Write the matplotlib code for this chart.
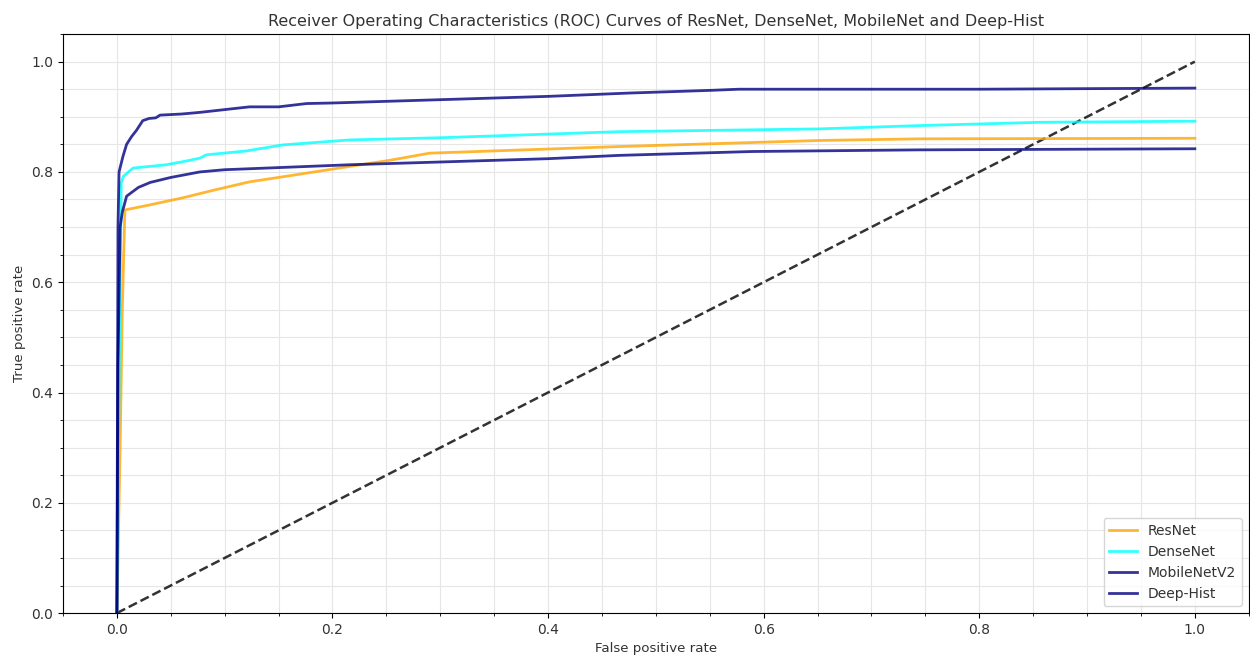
import matplotlib
matplotlib.use("Agg")
import matplotlib.pyplot as plt
from matplotlib.ticker import AutoMinorLocator

# ROC points
resnet_fpr = [0, 0.003, 0.005, 0.0074, 0.03, 0.061, 0.09, 0.123, 0.16, 0.216,
              0.253, 0.29, 0.466, 0.651, 0.744, 1.0]
resnet_tpr = [0, 0.30, 0.55, 0.731, 0.740, 0.753, 0.767, 0.782, 0.793, 0.810,
              0.821, 0.834, 0.846, 0.857, 0.860, 0.861]

densenet_fpr = [0, 0.003, 0.004, 0.006, 0.015, 0.046, 0.065, 0.077, 0.083, 0.12,
                0.154, 0.216, 0.3, 0.466, 0.651, 0.744, 0.857, 1.0]
densenet_tpr = [0, 0.60, 0.78, 0.792, 0.807, 0.813, 0.820, 0.825, 0.831, 0.838,
                0.849, 0.858, 0.862, 0.873, 0.878, 0.884, 0.890, 0.892]

mobilenet_fpr = [0, 0.001, 0.003, 0.005, 0.009, 0.02, 0.031, 0.05, 0.077, 0.1,
                 0.139, 0.216, 0.3, 0.4, 0.466, 0.589, 0.744, 1.0]
mobilenet_tpr = [0, 0.45, 0.70, 0.727, 0.756, 0.772, 0.781, 0.790, 0.800, 0.804,
                 0.807, 0.813, 0.818, 0.824, 0.830, 0.837, 0.840, 0.842]

deephist_fpr = [0, 0.001, 0.002, 0.0056, 0.009, 0.0136, 0.018, 0.024, 0.03, 0.036,
                0.04, 0.06, 0.077, 0.1, 0.123, 0.15, 0.176, 0.2, 0.3, 0.4,
                0.475, 0.552, 0.577, 0.8, 1.0]
deephist_tpr = [0, 0.70, 0.80, 0.828, 0.850, 0.864, 0.875, 0.893, 0.897, 0.898,
                0.903, 0.905, 0.908, 0.913, 0.918, 0.918, 0.924, 0.925, 0.931, 0.937,
                0.943, 0.948, 0.950, 0.950, 0.952]

plt.rcParams['text.color'] = '#333333'
plt.rcParams['axes.labelcolor'] = '#333333'
plt.rcParams['xtick.labelcolor'] = '#333333'
plt.rcParams['ytick.labelcolor'] = '#333333'

fig = plt.figure(figsize=(12.5, 6.55), dpi=100)
ax = fig.add_axes([0.0504, 0.064, 0.9486, 0.884])

ax.plot([0, 1], [0, 1], 'k--', lw=1.8, alpha=0.8)
ax.plot(resnet_fpr, resnet_tpr, color='orange', alpha=0.8, lw=2, label='ResNet')
ax.plot(densenet_fpr, densenet_tpr, color='cyan', alpha=0.8, lw=2, label='DenseNet')
ax.plot(mobilenet_fpr, mobilenet_tpr, color='navy', alpha=0.8, lw=2, label='MobileNetV2')
ax.plot(deephist_fpr, deephist_tpr, color='navy', alpha=0.8, lw=2, label='Deep-Hist')

ax.set_xlim(-0.05, 1.05)
ax.set_ylim(0, 1.05)
ax.xaxis.set_minor_locator(AutoMinorLocator())
ax.yaxis.set_minor_locator(AutoMinorLocator())
ax.grid(which='both', color='#e6e6e6', lw=0.8)
ax.set_axisbelow(True)

ax.set_xlabel('False positive rate', fontsize=9.6)
ax.set_ylabel('True positive rate', fontsize=9.6)
ax.set_title('Receiver Operating Characteristics (ROC) Curves of ResNet, DenseNet, MobileNet and Deep-Hist',
             fontsize=11.5)
ax.legend(loc='lower right')

fig.savefig('out.png', dpi=100)
